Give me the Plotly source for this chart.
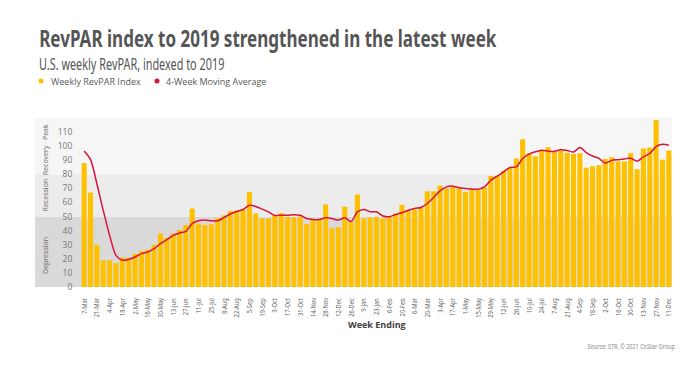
import plotly.graph_objects as go

week_labels = [
    "7-Mar", "14-Mar", "21-Mar", "28-Mar", "4-Apr", "11-Apr", "18-Apr", "25-Apr",
    "2-May", "9-May", "16-May", "23-May", "30-May", "6-Jun", "13-Jun", "20-Jun",
    "27-Jun", "4-Jul", "11-Jul", "18-Jul", "25-Jul", "1-Aug", "8-Aug", "15-Aug",
    "22-Aug", "29-Aug", "5-Sep", "12-Sep", "19-Sep", "26-Sep", "3-Oct", "10-Oct",
    "17-Oct", "24-Oct", "31-Oct", "7-Nov", "14-Nov", "21-Nov", "28-Nov", "5-Dec",
    "12-Dec", "19-Dec", "26-Dec", "2-Jan", "9-Jan", "16-Jan", "23-Jan", "30-Jan",
    "6-Feb", "13-Feb", "20-Feb", "27-Feb", "6-Mar", "13-Mar", "20-Mar", "27-Mar",
    "3-Apr", "10-Apr", "17-Apr", "24-Apr", "1-May", "8-May", "15-May", "22-May",
    "29-May", "5-Jun", "12-Jun", "19-Jun", "26-Jun", "3-Jul", "10-Jul", "17-Jul",
    "24-Jul", "31-Jul", "7-Aug", "14-Aug", "21-Aug", "28-Aug", "4-Sep", "11-Sep",
    "18-Sep", "25-Sep", "2-Oct", "9-Oct", "16-Oct", "23-Oct", "30-Oct", "6-Nov",
    "13-Nov", "20-Nov", "27-Nov", "4-Dec", "11-Dec",
]

weekly_revpar_index = [
    88, 67, 30, 19, 19, 17, 21, 21, 23.5, 25.5,
    26.5, 30, 38, 35, 38, 40.5, 44, 55.7, 45, 44,
    44.5, 49, 50.8, 54, 54.4, 55, 67.5, 52.3, 48.7, 48.7,
    51, 52.5, 49.7, 49.5, 50, 44.7, 48, 48, 58.7, 41.7,
    42.5, 57, 46.3, 65.7, 48.7, 49.3, 49.8, 48.7, 49.8, 52,
    58.3, 54.5, 55, 56.3, 68, 68, 72, 70, 71, 70,
    67.6, 69.7, 69.5, 70.5, 78.8, 79, 82.5, 84.5, 91.2, 104.9,
    95, 92.8, 96.8, 99.3, 96.2, 97, 95.3, 94.5, 95, 84.7,
    85.8, 86.5, 90.9, 92.2, 89.2, 89.2, 94.9, 83.6, 98.4, 99.1,
    118.5, 90.4, 97,
]

moving_average_4wk = [
    96.5, 90.4, 73.3, 54.4, 36.7, 22.5, 19, 19.6, 21.3, 23.7,
    24.8, 27.2, 30.8, 33.6, 36.7, 38.3, 39.5, 45, 47, 47.5,
    47, 47, 49.3, 51.8, 53.6, 55, 58, 57.2, 55.3, 53.3,
    50.8, 51, 51, 51.3, 51, 48.6, 47.9, 47.9, 49.1, 48.6,
    47.5, 49.1, 46.5, 53.4, 55.1, 53.4, 53.4, 50.4, 49.9, 51.5,
    52.7, 54.5, 55.8, 56.5, 59.3, 63.6, 68.3, 71.1, 71.6, 70.4,
    70, 69.5, 69.5, 71.1, 75.9, 78.7, 81.8, 84.9, 85.3, 91.2,
    94.3, 96, 97.1, 96.5, 96.3, 97.5, 97, 95.8, 99, 95.4,
    93, 91.3, 88, 89.9, 90.4, 90.9, 91.5, 89.3, 92.4, 94.8,
    99.7, 101.3, 100.7,
]

band_names = ["Depression", "Recession", "Recovery", "Peak"]
band_ranges = [(0, 50), (50, 80), (80, 100), (100, 120)]
band_colors = ["#d9d9d9", "#ececec", "#f6f6f6", "#f6f6f6"]
band_label_pos = [22, 65, 90, 110]

legend_names = ["Weekly RevPAR Index", "4-Week Moving Average"]

y_ticks = list(range(0, 120, 10))
x_tick_labels = week_labels[::2]

BAR_COLOR = "#FFC000"
LINE_COLOR = "#D6143C"
GRAY = "#595959"
COND = "Noto Sans, sans-serif"
REG = "Open Sans, sans-serif"

# plot-area geometry in pixels
L, R, T, B = 81, 672, 118, 287
W, H = R - L, B - T


def px(xp):
    return (xp - L) / W


def py(yp):
    return (B - yp) / H


fig = go.Figure()

fig.add_trace(go.Bar(
    x=week_labels, y=weekly_revpar_index, name=legend_names[0],
    marker=dict(color=BAR_COLOR, line=dict(width=0)),
    showlegend=False,
))
fig.add_trace(go.Scatter(
    x=week_labels, y=moving_average_4wk, mode="lines", name=legend_names[1],
    line=dict(color=LINE_COLOR, width=1.5, shape="spline", smoothing=0.8),
    showlegend=False,
))

shapes = []
for (y0, y1), c in zip(band_ranges, band_colors):
    shapes.append(dict(
        type="rect", xref="paper", yref="y", x0=px(35), x1=1.0, y0=y0, y1=y1,
        fillcolor=c, line=dict(width=0), layer="below",
    ))

# legend: dots + labels
legend_dot_x = [41, 157]
legend_text_x = [49, 164]
legend_y = 81
for dx, c in zip(legend_dot_x, [BAR_COLOR, LINE_COLOR]):
    shapes.append(dict(
        type="circle", xref="paper", yref="paper",
        x0=px(dx - 2.5), x1=px(dx + 2.5), y0=py(legend_y + 2.5), y1=py(legend_y - 2.5),
        fillcolor=c, line=dict(width=0),
    ))

annotations = [
    dict(text="RevPAR index to 2019 strengthened in the latest week",
         xref="paper", yref="paper", x=px(37), y=py(37), xanchor="left", yanchor="middle",
         showarrow=False,
         font=dict(family=COND, size=24, color="#555555", weight="bold")),
    dict(text="U.S. weekly RevPAR, indexed to 2019",
         xref="paper", yref="paper", x=px(37), y=py(64), xanchor="left", yanchor="middle",
         showarrow=False,
         font=dict(family=COND, size=16, color="#555555")),
    dict(text="Week Ending", xref="paper", yref="paper", x=0.5, y=py(324),
         xanchor="center", yanchor="middle", showarrow=False,
         font=dict(family=REG, size=9, color="#404040", weight="bold")),
    dict(text="Source: STR. \u00a9 2021 CoStar Group", xref="paper", yref="paper",
         x=px(677), y=py(346), xanchor="right", yanchor="middle", showarrow=False,
         font=dict(family=COND, size=7.5, color="#888888")),
]
for name, tx in zip(legend_names, legend_text_x):
    annotations.append(dict(
        text=name, xref="paper", yref="paper", x=px(tx), y=py(legend_y),
        xanchor="left", yanchor="middle", showarrow=False,
        font=dict(family=REG, size=9, color=GRAY),
    ))
for name, ypos in zip(band_names, band_label_pos):
    annotations.append(dict(
        text=name, xref="paper", yref="y", x=px(45), y=ypos,
        xanchor="center", yanchor="middle", textangle=-90, showarrow=False,
        font=dict(family=COND, size=7, color="#707070"),
    ))

fig.update_layout(
    width=700, height=367,
    margin=dict(l=L, r=700 - R, t=T, b=367 - B, autoexpand=False),
    paper_bgcolor="white", plot_bgcolor="rgba(0,0,0,0)",
    bargap=0.2,
    shapes=shapes, annotations=annotations,
    showlegend=False,
    xaxis=dict(
        type="category", categoryorder="array", categoryarray=week_labels,
        tickmode="array", tickvals=x_tick_labels, ticktext=x_tick_labels,
        tickangle=-90, tickfont=dict(family=COND, size=8, color="#666666"),
        showgrid=False, zeroline=False, showline=False, automargin=False,
        ticks="outside", ticklen=7, tickcolor="rgba(0,0,0,0)",
        range=[-0.5, len(week_labels) - 0.5],
    ),
    yaxis=dict(
        range=[0, 120], tickmode="array", tickvals=y_ticks,
        tickfont=dict(family=REG, size=8.5, color="#777777"),
        showgrid=False, zeroline=False, showline=False, automargin=False,
        ticks="outside", ticklen=6, tickcolor="rgba(0,0,0,0)",
    ),
)

post_js = """
document.body.style.margin = '0';
var gd = document.getElementById('{plot_id}');
function squeeze(t, s, anchor) {
  var bb = t.getBBox();
  var ax = anchor === 'start' ? bb.x : (anchor === 'end' ? bb.x + bb.width : bb.x + bb.width / 2);
  var prev = t.getAttribute('transform') || '';
  t.setAttribute('transform', prev + ' translate(' + ax + ',0) scale(' + s + ',1) translate(' + (-ax) + ',0)');
}
gd.querySelectorAll('.annotation text').forEach(function (t) {
  var s = t.textContent;
  if (s.indexOf('RevPAR index to 2019') === 0) squeeze(t, 0.71, 'start');
  else if (s.indexOf('U.S. weekly') === 0) squeeze(t, 0.68, 'start');
  else if (s.indexOf('Source:') === 0) squeeze(t, 0.73, 'end');
});
gd.querySelectorAll('.xtick text').forEach(function (t) { squeeze(t, 0.72, 'end'); });
"""

fig.write_html("out.html", post_script=post_js, config={"displayModeBar": False})
